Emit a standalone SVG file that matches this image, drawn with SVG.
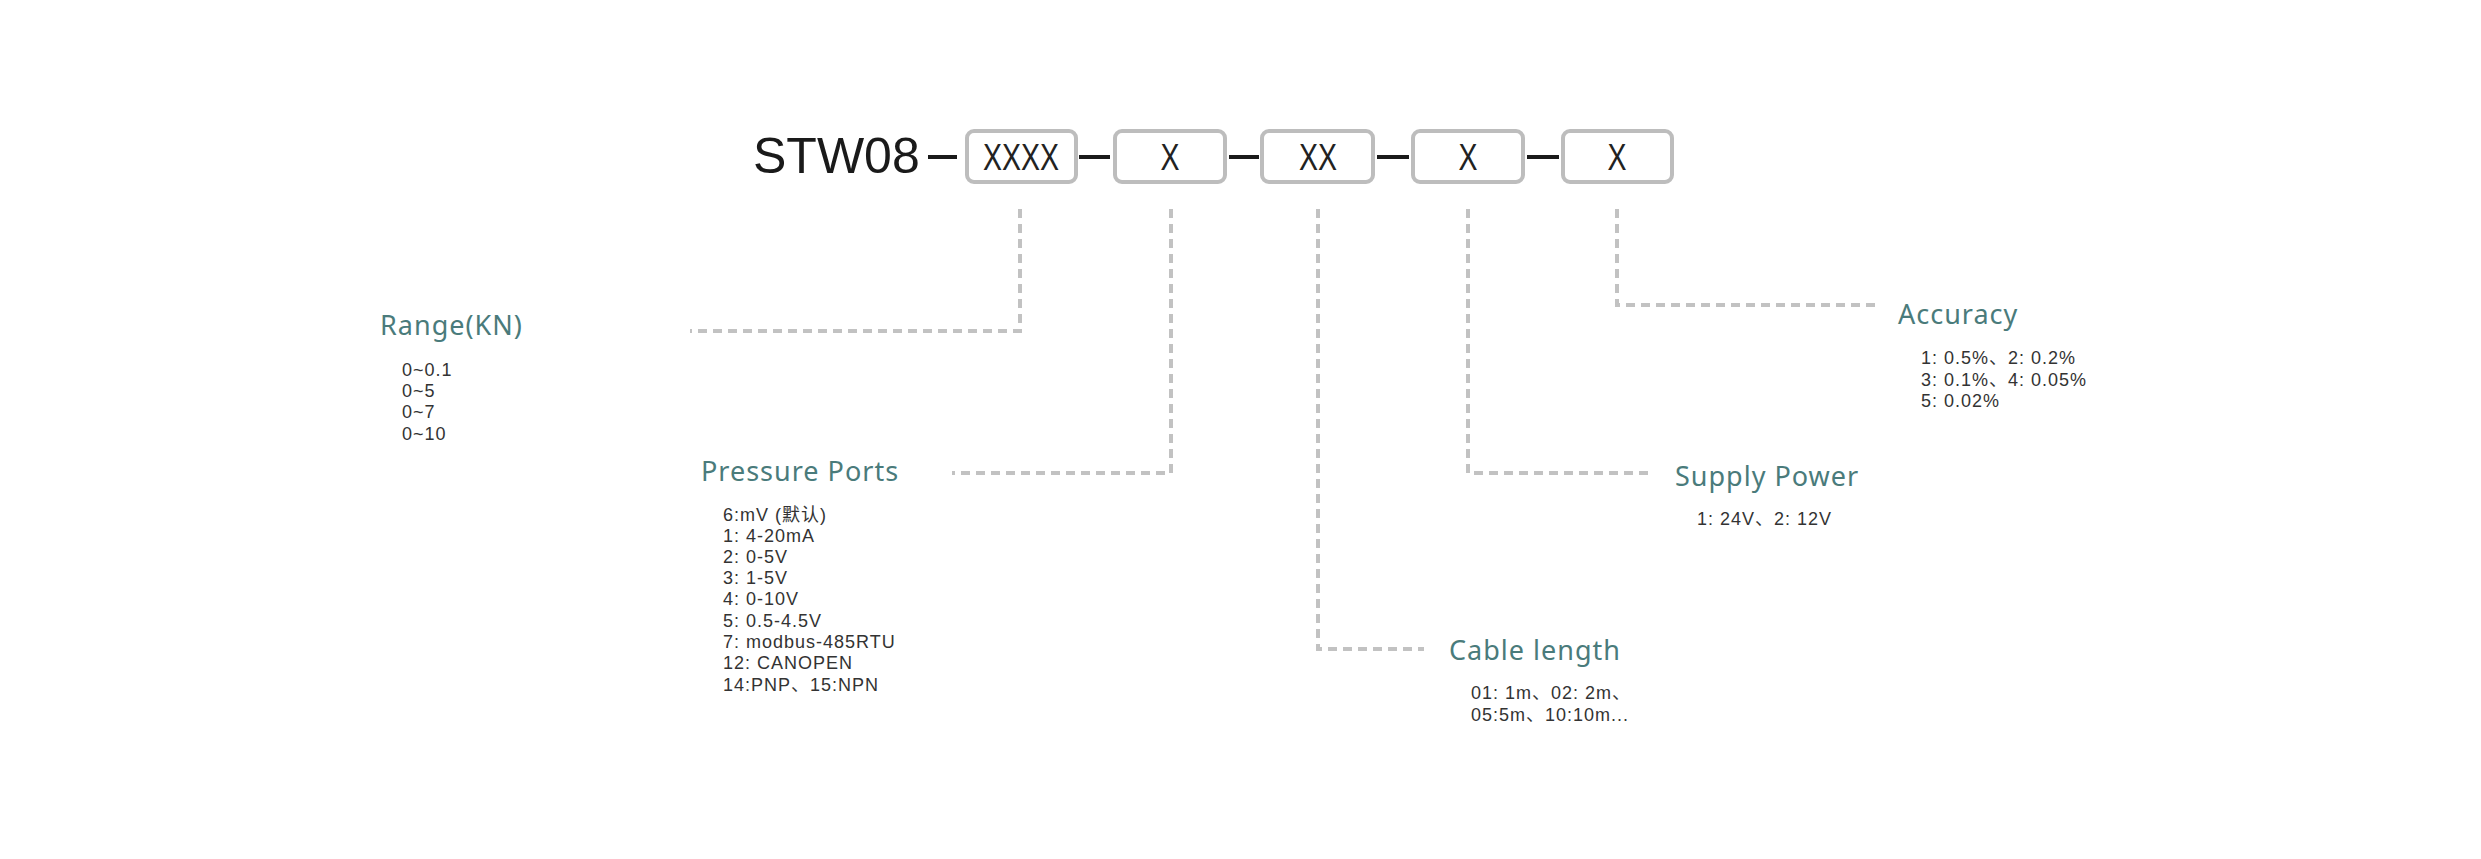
<svg xmlns="http://www.w3.org/2000/svg" width="2481" height="859" viewBox="0 0 2481 859">
<style>
.box{fill:#fff;stroke:#bdbdbd;stroke-width:4}
.bx{font-family:"Liberation Sans",sans-serif;font-size:36px;fill:#222;text-anchor:middle}
.dash{stroke:#1a1a1a;stroke-width:4}
.con{fill:none;stroke:#c2c2c2;stroke-width:4;stroke-dasharray:9 6}
.t{font-family:"Noto Sans","Noto Sans CJK SC",sans-serif;font-size:27px;fill:#4a7b7b;letter-spacing:1px}
.d{font-family:"Liberation Sans","Noto Sans CJK SC",sans-serif;font-size:18px;fill:#333;letter-spacing:1px}
</style>
<rect width="2481" height="859" fill="#fff"/>
<g id="code">
<text x="753" y="173" font-family="Liberation Sans,sans-serif" font-size="50" fill="#1a1a1a">STW08</text>
<line class="dash" x1="928" y1="157" x2="957" y2="157"/>
<line class="dash" x1="1079" y1="157" x2="1110" y2="157"/>
<line class="dash" x1="1229" y1="157" x2="1259" y2="157"/>
<line class="dash" x1="1377" y1="157" x2="1409" y2="157"/>
<line class="dash" x1="1527" y1="157" x2="1559" y2="157"/>
</g>
<g id="box1"><rect class="box" x="967" y="131" width="109" height="51" rx="7"/><text class="bx" x="1021" y="170" textLength="76" lengthAdjust="spacingAndGlyphs">XXXX</text></g>
<g id="box2"><rect class="box" x="1115" y="131" width="110" height="51" rx="7"/><text class="bx" x="1170" y="170" textLength="19" lengthAdjust="spacingAndGlyphs">X</text></g>
<g id="box3"><rect class="box" x="1262" y="131" width="111" height="51" rx="7"/><text class="bx" x="1318" y="170" textLength="38" lengthAdjust="spacingAndGlyphs">XX</text></g>
<g id="box4"><rect class="box" x="1413" y="131" width="110" height="51" rx="7"/><text class="bx" x="1468" y="170" textLength="19" lengthAdjust="spacingAndGlyphs">X</text></g>
<g id="box5"><rect class="box" x="1563" y="131" width="109" height="51" rx="7"/><text class="bx" x="1617" y="170" textLength="19" lengthAdjust="spacingAndGlyphs">X</text></g>
<g id="connectors">
<polyline class="con" points="1020,209 1020,331 690,331"/>
<polyline class="con" points="1171,209 1171,473 952,473"/>
<polyline class="con" points="1318,209 1318,649 1424,649"/>
<polyline class="con" points="1468,209 1468,473 1653,473"/>
<polyline class="con" points="1617,209 1617,305 1875,305"/>
</g>
<g id="range"><text class="t" x="380" y="335">Range(KN)</text>
<text class="d" x="402" y="376">0~0.1</text><text class="d" x="402" y="397">0~5</text><text class="d" x="402" y="418">0~7</text><text class="d" x="402" y="440">0~10</text></g>
<g id="ports"><text class="t" x="701" y="481">Pressure Ports</text>
<text class="d" x="723" y="521">6:mV (默认)</text>
<text class="d" x="723" y="542">1: 4-20mA</text>
<text class="d" x="723" y="563">2: 0-5V</text>
<text class="d" x="723" y="584">3: 1-5V</text>
<text class="d" x="723" y="605">4: 0-10V</text>
<text class="d" x="723" y="627">5: 0.5-4.5V</text>
<text class="d" x="723" y="648">7: modbus-485RTU</text>
<text class="d" x="723" y="669">12: CANOPEN</text>
<text class="d" x="723" y="691">14:PNP、15:NPN</text></g>
<g id="cable"><text class="t" x="1449" y="660">Cable length</text>
<text class="d" x="1471" y="699">01: 1m、02: 2m、</text><text class="d" x="1471" y="721">05:5m、10:10m...</text></g>
<g id="power"><text class="t" x="1675" y="486">Supply Power</text>
<text class="d" x="1697" y="525">1: 24V、2: 12V</text></g>
<g id="accuracy"><text class="t" x="1898" y="324">Accuracy</text>
<text class="d" x="1921" y="364">1: 0.5%、2: 0.2%</text><text class="d" x="1921" y="386">3: 0.1%、4: 0.05%</text><text class="d" x="1921" y="407">5: 0.02%</text></g>
</svg>
